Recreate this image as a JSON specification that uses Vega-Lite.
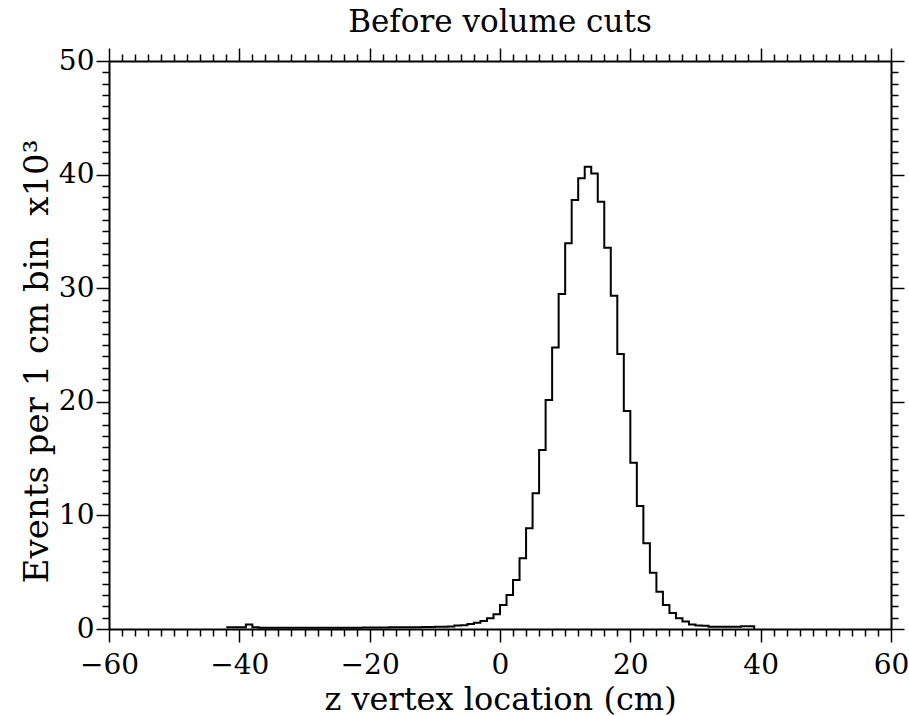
{
  "$schema": "https://vega.github.io/schema/vega-lite/v6.json",
  "width": 782,
  "height": 568,
  "autosize": {"type": "none"},
  "padding": {"left": 109, "top": 61, "right": 18, "bottom": 87},
  "background": "white",
  "title": {"text": "Before volume cuts", "font": "DejaVu Serif", "fontSize": 31, "fontWeight": "normal", "color": "black", "anchor": "middle", "offset": 8},
  "config": {
    "view": {"stroke": null},
    "axis": {
      "domainColor": "black", "domainWidth": 2, "tickColor": "black", "tickWidth": 1.5,
      "labelColor": "black", "titleColor": "black", "grid": false,
      "labelFont": "DejaVu Serif", "titleFont": "DejaVu Serif", "titleFontWeight": "normal",
      "labelFontSize": 28, "titleFontSize": 32, "labelOverlap": false, "labelFlush": false, "labelBound": false
    }
  },
  "data": {"values": [
    {"z": -42, "events": 0.15}, {"z": -41, "events": 0.15}, {"z": -40, "events": 0.15}, {"z": -39, "events": 0.4},
    {"z": -38, "events": 0.15}, {"z": -37, "events": 0.12}, {"z": -36, "events": 0.12}, {"z": -35, "events": 0.12},
    {"z": -34, "events": 0.12}, {"z": -33, "events": 0.12}, {"z": -32, "events": 0.12}, {"z": -31, "events": 0.12},
    {"z": -30, "events": 0.12}, {"z": -29, "events": 0.12}, {"z": -28, "events": 0.12}, {"z": -27, "events": 0.12},
    {"z": -26, "events": 0.12}, {"z": -25, "events": 0.12}, {"z": -24, "events": 0.12}, {"z": -23, "events": 0.12},
    {"z": -22, "events": 0.12}, {"z": -21, "events": 0.13}, {"z": -20, "events": 0.14}, {"z": -19, "events": 0.14},
    {"z": -18, "events": 0.14}, {"z": -17, "events": 0.15}, {"z": -16, "events": 0.15}, {"z": -15, "events": 0.15},
    {"z": -14, "events": 0.16}, {"z": -13, "events": 0.16}, {"z": -12, "events": 0.17}, {"z": -11, "events": 0.18},
    {"z": -10, "events": 0.2}, {"z": -9, "events": 0.2}, {"z": -8, "events": 0.22}, {"z": -7, "events": 0.3},
    {"z": -6, "events": 0.32}, {"z": -5, "events": 0.45}, {"z": -4, "events": 0.55}, {"z": -3, "events": 0.7},
    {"z": -2, "events": 0.94}, {"z": -1, "events": 1.29}, {"z": 0, "events": 2.11}, {"z": 1, "events": 2.99},
    {"z": 2, "events": 4.31}, {"z": 3, "events": 6.22}, {"z": 4, "events": 8.86}, {"z": 5, "events": 11.94},
    {"z": 6, "events": 15.76}, {"z": 7, "events": 20.16}, {"z": 8, "events": 24.77}, {"z": 9, "events": 29.49},
    {"z": 10, "events": 33.95}, {"z": 11, "events": 37.76}, {"z": 12, "events": 39.67}, {"z": 13, "events": 40.7},
    {"z": 14, "events": 40.1}, {"z": 15, "events": 37.6}, {"z": 16, "events": 33.57}, {"z": 17, "events": 29.34},
    {"z": 18, "events": 24.2}, {"z": 19, "events": 19.19}, {"z": 20, "events": 14.64}, {"z": 21, "events": 10.83},
    {"z": 22, "events": 7.54}, {"z": 23, "events": 4.96}, {"z": 24, "events": 3.29}, {"z": 25, "events": 2.11},
    {"z": 26, "events": 1.4}, {"z": 27, "events": 0.94}, {"z": 28, "events": 0.65}, {"z": 29, "events": 0.4},
    {"z": 30, "events": 0.3}, {"z": 31, "events": 0.28}, {"z": 32, "events": 0.2}, {"z": 33, "events": 0.2},
    {"z": 34, "events": 0.2}, {"z": 35, "events": 0.2}, {"z": 36, "events": 0.2}, {"z": 37, "events": 0.25},
    {"z": 38, "events": 0.25}, {"z": 39, "events": 0}
  ]},
  "layer": [
    {
      "mark": {"type": "line", "interpolate": "step-after", "color": "black", "strokeWidth": 2},
      "encoding": {
        "x": {"field": "z", "type": "quantitative", "scale": {"domain": [-60, 60], "nice": false, "zero": false},
          "axis": {"orient": "bottom", "title": "z vertex location (cm)", "values": [-60,-58,-56,-54,-52,-50,-48,-46,-44,-42,-40,-38,-36,-34,-32,-30,-28,-26,-24,-22,-20,-18,-16,-14,-12,-10,-8,-6,-4,-2,0,2,4,6,8,10,12,14,16,18,20,22,24,26,28,30,32,34,36,38,40,42,44,46,48,50,52,54,56,58,60],
            "labelExpr": "datum.value % 20 === 0 ? datum.label : ''",
            "tickSize": {"condition": {"test": "datum.value % 20 === 0", "value": 13}, "value": 7},
            "labelPadding": 9, "titlePadding": 5}},
        "y": {"field": "events", "type": "quantitative", "scale": {"domain": [0, 50], "nice": false},
          "axis": {"orient": "left", "title": "Events per 1 cm bin\u00a0\u00a0x10³", "titleFontSize": 34, "titleY": 300, "values": [0,1,2,3,4,5,6,7,8,9,10,11,12,13,14,15,16,17,18,19,20,21,22,23,24,25,26,27,28,29,30,31,32,33,34,35,36,37,38,39,40,41,42,43,44,45,46,47,48,49,50],
            "labelExpr": "datum.value % 10 === 0 ? datum.label : ''",
            "tickSize": {"condition": {"test": "datum.value % 10 === 0", "value": 13}, "value": 7},
            "labelPadding": 2, "titlePadding": 4}}
      }
    },
    {
      "mark": {"type": "line", "interpolate": "step-after", "opacity": 0},
      "encoding": {
        "x": {"field": "z", "type": "quantitative", "scale": {"domain": [-60, 60], "nice": false, "zero": false},
          "axis": {"orient": "top", "title": null, "labels": false, "values": [-60,-58,-56,-54,-52,-50,-48,-46,-44,-42,-40,-38,-36,-34,-32,-30,-28,-26,-24,-22,-20,-18,-16,-14,-12,-10,-8,-6,-4,-2,0,2,4,6,8,10,12,14,16,18,20,22,24,26,28,30,32,34,36,38,40,42,44,46,48,50,52,54,56,58,60],
            "tickSize": {"condition": {"test": "datum.value % 20 === 0", "value": 13}, "value": 7}}},
        "y": {"field": "events", "type": "quantitative", "scale": {"domain": [0, 50], "nice": false},
          "axis": {"orient": "right", "title": null, "labels": false, "values": [0,1,2,3,4,5,6,7,8,9,10,11,12,13,14,15,16,17,18,19,20,21,22,23,24,25,26,27,28,29,30,31,32,33,34,35,36,37,38,39,40,41,42,43,44,45,46,47,48,49,50],
            "tickSize": {"condition": {"test": "datum.value % 10 === 0", "value": 13}, "value": 7}}}
      }
    }
  ],
  "resolve": {"scale": {"x": "independent", "y": "independent"}}
}
